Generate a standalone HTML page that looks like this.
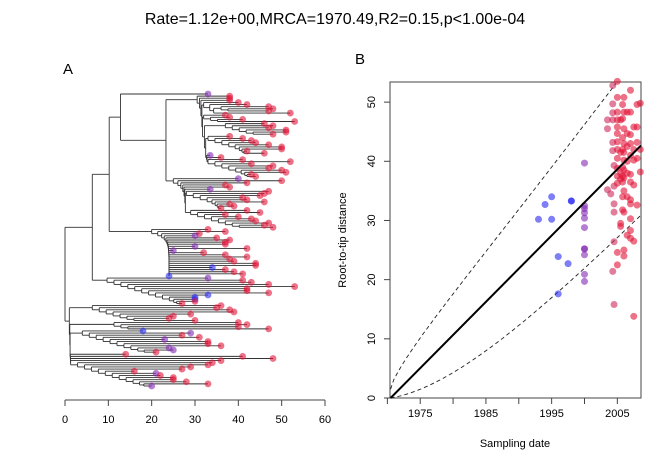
<!DOCTYPE html>
<html><head><meta charset="utf-8"><style>
body{margin:0;background:#fff;}
svg text{font-family:"Liberation Sans",sans-serif;fill:#000;}
</style></head><body>
<svg id="c" width="669" height="468" xmlns="http://www.w3.org/2000/svg">
<text x="335" y="24" font-size="16" text-anchor="middle">Rate=1.12e+00,MRCA=1970.49,R2=0.15,p&lt;1.00e-04</text>
<text x="63" y="74" font-size="15">A</text>
<text x="355" y="64" font-size="15">B</text>
<g id="tree"></g>
<g id="treeaxis"></g>
<g id="scatter"></g>
</svg>
<script>
// Tree: node = [x, children...]; tip = [color, x]
const treeData = [0,
 [6.3,
  [10.2,
   [12.8,
    ['p',33],
    [23.3,
     [30.5,
      ['r',38],['r',38],['r',38],
      [32,['r',40],['r',42],[36,['r',47],['r',48],['r',47]],['r',52]],
      [32,['r',37],['r',38],['r',41],['r',53]],
      [37,['r',46],['r',48],['r',47],['r',51],['r',51],['r',48]],
      [33,['r',38],['r',41],['r',43],['r',44],['r',47],['r',50],['r',50],['r',42],['r',46]],
      ['p',33.5],['r',36],
      [33,['r',41],['r',52],['r',43],['r',48],['r',47],['r',50],['r',51],['r',43],['r',44]]
     ],
     [25,
      ['p',40],['r',50],['r',42],['r',37],['r',38],['p',33.5],
      [28,['r',47],['r',46],['r',45],['r',41],['r',42],['r',46],['r',38],['r',39],['r',36]],
      [29,['r',42],['r',45],['r',37],['r',40],['r',43],['r',44],['r',47],['r',46],['r',48]]
     ]
    ]
   ],
   [20,
    ['r',33],['r',37],['r',31],['p',30],['r',35],['r',38],['r',37],['r',37],
    ['p',30],['r',42],['p',25],['r',32],['r',37],['r',42],['r',38],['r',39],['r',44],['r',44],['b',34],['r',37],['r',39],['r',41],['b',24]]
  ],
  [9.7,['p',33],['r',41],['r',43],['r',47],['r',53],['r',42],['r',42],['r',47],['b',33],['b',30],['b',30],['r',30],['r',27]]
 ],
 [1,
  [6.3,['r',36],['r',35],['r',38],['r',39],['r',29],['r',25],['r',24],['r',30]],
  [11.3,['r',40],['r',42],['r',40],['r',47]],
  [4,['b',18],['p',29],['r',27],['r',31],['p',23],['r',33],['r',33],['r',36],['p',24],['p',25],['r',21]],
  ['r',14],['r',41],['r',48],
  [1.3,['r',36],['r',34],['r',33],['r',29],['r',27],['r',16],['p',21],['r',22],['r',25],['r',25],['r',28],['r',33],['p',20]]
 ]
];
const treeTicks=[0,10,20,30,40,50,60];

// Scatter data
const blueYears=[1993,1994,1995,1995,1996,1996,1997.5,1998,1998];
const blueDist=[30.2,32.7,34,30.2,23.9,17.6,22.7,33.3,33.3];
const purpleYears=[2000,2000,2000,2000,2000,2000,2000,2000,2000,2000,2000];
const purpleDist=[39.7,32.5,32,31.3,30.4,28.8,25.2,25.2,24.2,20.9,19.7];
const redYears=[2003.5,2003.5,2003.5,2004,2004.3,2004.3,2004.3,2004.3,2004.3,2004.3,2004.5,2004.5,2004.5,2004.5,2004.5,2004.3,2004.5,2005,2005,2005,2005,2005,2005,2005,2005,2005,2005,2005,2005,2005,2005,2005.5,2005.5,2005.5,2005.5,2005.5,2005.5,2005.8,2005.8,2005.8,2005.8,2005.8,2005.8,2005.8,2005.8,2005.8,2006,2006,2006,2006,2006,2006,2006,2006,2006,2006,2006,2006,2006.5,2006.5,2006.5,2006.5,2006.5,2006.5,2006.5,2007,2007,2007,2007,2007,2007,2007,2007,2007,2007,2007,2007,2007.5,2007.5,2007.5,2007.5,2007.5,2007.5,2008,2008,2008,2008,2008,2008.5,2008.5,2008.5];
const redDist=[47,45.5,35.2,34.5,52.8,49.7,48.2,47,43.2,41.8,39.3,35.8,32.8,31.4,26.4,21.4,15.8,53.5,50.8,48.3,47,45.8,44.7,43.3,42,40.5,38.8,37.5,36.3,24.6,22.5,47,41.5,38,37,29.5,29,49.6,47.2,44,42,39,37.5,36.5,34,31.8,50.8,48.3,45.5,43,41.5,40.2,38.5,37.2,35,31.4,25,24,48.3,44.7,42.5,40,38,34,27.5,52,48.3,44.5,43,41,37.8,36.5,33.5,32.8,30.3,28.3,27,45.8,42,40.2,36,26.5,13.8,49.6,45.8,43.2,40.5,32.6,49.8,42,38.2];
const yTicks=[0,10,20,30,40,50];
const xTicks=[1970,1975,1980,1985,1990,1995,2000,2005];
const xLabels=[1975,1985,1995,2005];
const rate=1.12, mrca=1970.49;

const NS='http://www.w3.org/2000/svg';
function mk(tag,attrs,parent){const e=document.createElementNS(NS,tag);for(const k in attrs)e.setAttribute(k,attrs[k]);parent.appendChild(e);return e;}
const col={r:'rgba(225,20,55,0.6)',p:'rgba(130,40,180,0.6)',b:'rgba(40,40,240,0.6)'};

// convert polytomies into ladder of binary nodes with staggered depths
function binarize(n){
  if(typeof n[0]==='string')return n;
  const kids=n.slice(1).map(binarize);
  function chain(x,ks){
    if(ks.length<=2)return [x,...ks];
    const rest=ks.slice(1);
    let m=1e9;rest.forEach(k=>m=Math.min(m,typeof k[0]==='string'?k[1]:k[0]));
    const nx=x+Math.min(1.6,(m-x)*0.35);
    return [x,ks[0],chain(nx,rest)];
  }
  return chain(n[0],kids);
}
const tree=binarize(treeData);

// ---- Tree ----
const tg=document.getElementById('tree');
const tx=v=>65+v*260/60;
const tips=[];
(function count(n){if(typeof n[0]==='string'){tips.push(n);return;}for(let i=1;i<n.length;i++)count(n[i]);})(tree);
const step=292/(tips.length-1);
let ti=0;
function layout(n,px){
  if(typeof n[0]==='string'){
    const y=94+ti*step;ti++;
    const l=mk('line',{x1:tx(px),x2:tx(n[1]),y1:y,y2:y,stroke:'#333','stroke-width':0.9},tg);
    
    
    return y;
  }
  const ys=[];
  for(let i=1;i<n.length;i++)ys.push(layout(n[i],n[0]));
  const y=(ys[0]+ys[ys.length-1])/2;
  const v=mk('line',{x1:tx(n[0]),x2:tx(n[0]),y1:ys[0],y2:ys[ys.length-1],stroke:'#333','stroke-width':0.9},tg);
  
  
  if(px!==null){
    const h=mk('line',{x1:tx(px),x2:tx(n[0]),y1:y,y2:y,stroke:'#333','stroke-width':0.9},tg);
    
    
  }
  return y;
}
layout(tree,null);
tips.forEach((t,i)=>{
  const c=mk('circle',{cx:tx(t[1]),cy:94+i*step,r:3.4,fill:col[t[0]]},tg);
  
  
});
const ta=document.getElementById('treeaxis');
mk('line',{x1:tx(0),x2:tx(60),y1:400,y2:400,stroke:'#444'},ta);
treeTicks.forEach(v=>{
  mk('line',{x1:tx(v),x2:tx(v),y1:400,y2:406,stroke:'#444'},ta);
  const t=mk('text',{x:tx(v),y:423,'font-size':11,'text-anchor':'middle'},ta);t.textContent=v;
  
  
});

// ---- Scatter ----
const sg=document.getElementById('scatter');
const L=390,R=641,T=82,B=398;
const X0=1970.4,X1=2008.6,Y1=53.4;
const sx=v=>L+(v-X0)/(X1-X0)*(R-L);
const sy=v=>B-v/Y1*(B-T);
mk('rect',{x:L,y:T,width:R-L,height:B-T,fill:'none',stroke:'#444'},sg);
yTicks.forEach(v=>{
  mk('line',{x1:L,x2:L-6,y1:sy(v),y2:sy(v),stroke:'#444'},sg);
  const t=mk('text',{x:375,y:sy(v),'font-size':11,'text-anchor':'middle',transform:`rotate(-90 375 ${sy(v)})`},sg);t.textContent=v;
  
  
});
xTicks.forEach(v=>{mk('line',{x1:sx(v),x2:sx(v),y1:B,y2:B+6,stroke:'#444'},sg);});
xLabels.forEach(v=>{
  const t=mk('text',{x:sx(v),y:417,'font-size':11,'text-anchor':'middle'},sg);t.textContent=v;
  
  
});
const yl=mk('text',{x:346,y:240,'font-size':11,'text-anchor':'middle',transform:'rotate(-90 346 240)'},sg);yl.textContent='Root-to-tip distance';


const xl=mk('text',{x:515,y:447,'font-size':11,'text-anchor':'middle'},sg);xl.textContent='Sampling date';


// dashed bounds
let up='',lo='';
for(let k=0;k<=80;k++){
  const yr=mrca+k*(X1-mrca)/80, d=rate*(yr-mrca);
  const u=1.33*d+1.5+1.2*Math.sqrt(d)*Math.exp(-d/15);
  const w=d-12.5*(1-Math.exp(-d/15));
  if(u<=Y1) up+=(up?'L':'M')+sx(yr).toFixed(1)+','+sy(u).toFixed(1);
  lo+=(lo?'L':'M')+sx(yr).toFixed(1)+','+sy(Math.max(w,0)).toFixed(1);
}
mk('path',{d:up,fill:'none',stroke:'#222','stroke-dasharray':'4,3','stroke-width':0.9},sg);
mk('path',{d:lo,fill:'none',stroke:'#222','stroke-dasharray':'4,3','stroke-width':0.9},sg);
function pts(ys,ds,name,fn){ys.forEach((yr,i)=>{
  const c=mk('circle',{cx:sx(yr),cy:sy(ds[i]),r:3.5,fill:fn(yr)},sg);
  
  
});}
pts(blueYears,blueDist,'point-early',()=>col.b);
pts(purpleYears,purpleDist,'point-2000',()=>col.p);
pts(redYears,redDist,'point-recent',y=>y<2005?'rgba(205,40,90,0.6)':col.r);
const rl=mk('line',{x1:sx(mrca),y1:sy(0),x2:sx(X1),y2:sy(rate*(X1-mrca)),stroke:'#000','stroke-width':2},sg);


</script>
</body></html>
